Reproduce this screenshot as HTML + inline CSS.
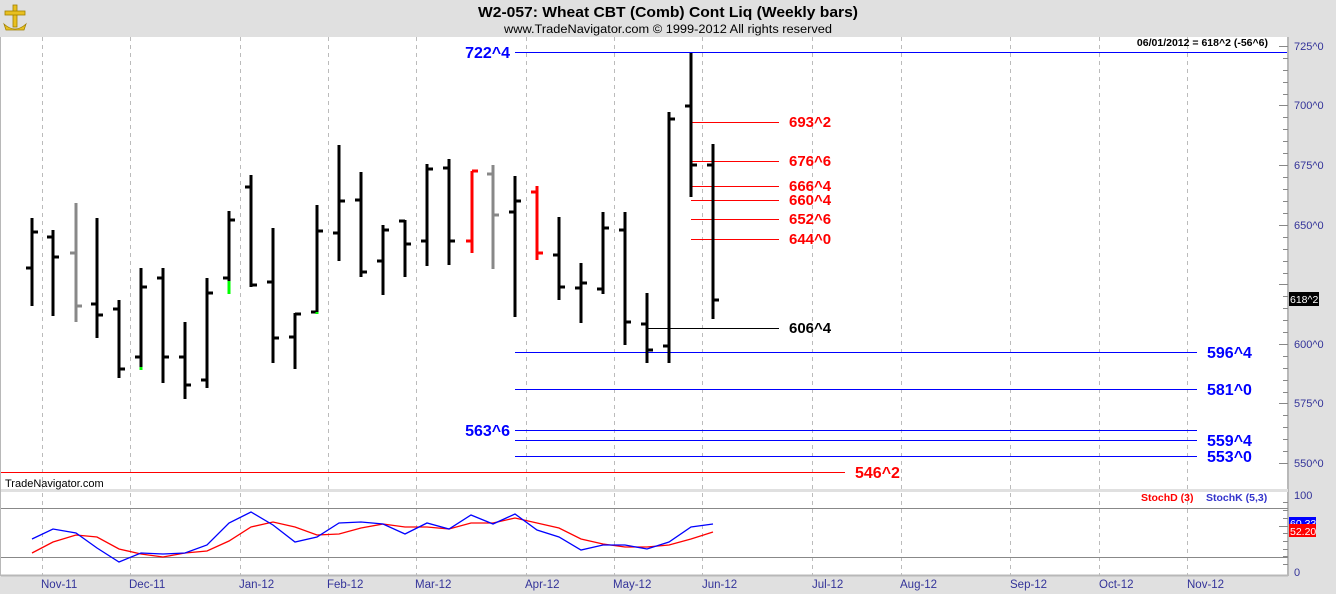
<!DOCTYPE html>
<html><head><meta charset="utf-8"><style>
html,body{margin:0;padding:0;background:#e0e0e0;}
svg{display:block;font-family:"Liberation Sans",Arial,sans-serif;}
</style></head><body>
<svg width="1336" height="594" viewBox="0 0 1336 594" xmlns="http://www.w3.org/2000/svg">
<rect width="1336" height="594" fill="#e0e0e0"/>
<g fill="#e8c020" stroke="#a08000" stroke-width="0.8">
<rect x="13" y="5" width="4" height="22"/><rect x="5" y="11" width="20" height="4"/>
<path d="M4 24 Q15 34 26 24 L24 30 L6 30 Z"/>
</g>
<text x="668" y="17" text-anchor="middle" font-size="15" font-weight="bold" textLength="380" lengthAdjust="spacingAndGlyphs">W2-057:  Wheat CBT (Comb) Cont Liq  (Weekly bars)</text>
<text x="668" y="33" text-anchor="middle" font-size="11.5" textLength="328" lengthAdjust="spacingAndGlyphs">www.TradeNavigator.com © 1999-2012 All rights reserved</text>
<rect x="1" y="37" width="1287" height="452" fill="#fff"/>
<rect x="1" y="492" width="1287" height="83" fill="#fff"/>
<line x1="1288" y1="37" x2="1288" y2="576" stroke="#b8b8b8" stroke-width="2"/>
<line x1="1" y1="575.5" x2="1288" y2="575.5" stroke="#b8b8b8" stroke-width="2"/>
<line x1="0.5" y1="37" x2="0.5" y2="576" stroke="#b8b8b8"/>
<g stroke="#bbb" stroke-dasharray="4,4" stroke-width="1">
<path d="M42.5 37V575 M130.5 37V575 M240.5 37V575 M328.5 37V575 M416.5 37V575 M526.5 37V575 M614.5 37V575 M702.5 37V575 M812.5 37V575 M901.5 37V575 M1010.5 37V575 M1099.5 37V575 M1187.5 37V575"/>
</g>
<rect x="1" y="489" width="1287" height="3" fill="#e0e0e0"/>
<g stroke="#888" stroke-width="1">
<path d="M1279 46.5H1288 M1279 105.5H1288 M1279 165.5H1288 M1279 225.5H1288 M1279 284.5H1288 M1279 344.5H1288 M1279 403.5H1288 M1279 463.5H1288"/>
<path d="M1283 58.5H1288 M1283 70.5H1288 M1283 82.5H1288 M1283 94.5H1288 M1283 117.5H1288 M1283 129.5H1288 M1283 141.5H1288 M1283 153.5H1288 M1283 177.5H1288 M1283 189.5H1288 M1283 201.5H1288 M1283 213.5H1288 M1283 237.5H1288 M1283 249.5H1288 M1283 261.5H1288 M1283 273.5H1288 M1283 296.5H1288 M1283 308.5H1288 M1283 320.5H1288 M1283 332.5H1288 M1283 356.5H1288 M1283 368.5H1288 M1283 380.5H1288 M1283 392.5H1288 M1283 415.5H1288 M1283 427.5H1288 M1283 439.5H1288 M1283 451.5H1288"/>
<path d="M1283 502.5H1288 M1283 510.5H1288 M1283 518.5H1288 M1283 533.5H1288 M1283 541.5H1288 M1283 549.5H1288 M1283 556.5H1288 M1283 564.5H1288 M1279 526.5H1288"/>
</g>
<g font-size="11" fill="#333399">
<text x="1294" y="50">725^0</text><text x="1294" y="109">700^0</text><text x="1294" y="169">675^0</text><text x="1294" y="229">650^0</text>
<text x="1294" y="348">600^0</text><text x="1294" y="407">575^0</text><text x="1294" y="467">550^0</text>
<text x="1294" y="499">100</text><text x="1294" y="576">0</text>
</g>
<rect x="1289" y="292" width="30" height="14" fill="#000"/>
<text x="1290" y="303" font-size="10.5" fill="#fff">618^2</text>
<rect x="1289" y="517" width="27" height="11" fill="#0000ff"/>
<text x="1290" y="527" font-size="10.5" fill="#fff">60.33</text>
<rect x="1289" y="524" width="27" height="13" fill="#ff0000"/>
<text x="1290" y="535" font-size="10.5" fill="#fff">52.20</text>
<g font-size="11.5" fill="#333399">
<text x="41" y="588">Nov-11</text><text x="129" y="588">Dec-11</text><text x="239" y="588">Jan-12</text><text x="327" y="588">Feb-12</text><text x="415" y="588">Mar-12</text><text x="525" y="588">Apr-12</text><text x="613" y="588">May-12</text><text x="702" y="588">Jun-12</text><text x="812" y="588">Jul-12</text><text x="900" y="588">Aug-12</text><text x="1010" y="588">Sep-12</text><text x="1099" y="588">Oct-12</text><text x="1187" y="588">Nov-12</text>
</g>
<text x="1268" y="46" text-anchor="end" font-size="10.5" font-weight="bold">06/01/2012 = 618^2 (-56^6)</text>
<text x="5" y="487" font-size="11">TradeNavigator.com</text>
<g stroke-width="1">
<line x1="515" y1="52.5" x2="1287" y2="52.5" stroke="#0000ff"/>
<line x1="515" y1="352.5" x2="1197" y2="352.5" stroke="#0000ff"/>
<line x1="515" y1="389.5" x2="1197" y2="389.5" stroke="#0000ff"/>
<line x1="515" y1="430.5" x2="1197" y2="430.5" stroke="#0000ff"/>
<line x1="515" y1="440.5" x2="1197" y2="440.5" stroke="#0000ff"/>
<line x1="515" y1="456.5" x2="1197" y2="456.5" stroke="#0000ff"/>
<line x1="1" y1="472.5" x2="845" y2="472.5" stroke="#ff0000"/>
<line x1="691" y1="122.5" x2="779" y2="122.5" stroke="#ff0000"/>
<line x1="691" y1="161.5" x2="779" y2="161.5" stroke="#ff0000"/>
<line x1="691" y1="186.5" x2="779" y2="186.5" stroke="#ff0000"/>
<line x1="691" y1="200.5" x2="779" y2="200.5" stroke="#ff0000"/>
<line x1="691" y1="219.5" x2="779" y2="219.5" stroke="#ff0000"/>
<line x1="691" y1="239.5" x2="779" y2="239.5" stroke="#ff0000"/>
<line x1="648" y1="328.5" x2="779" y2="328.5" stroke="#000"/>
</g>
<g font-size="16" font-weight="bold">
<text x="510" y="58" text-anchor="end" fill="#0000ff">722^4</text>
<text x="510" y="436" text-anchor="end" fill="#0000ff">563^6</text>
<text x="1207" y="358" fill="#0000ff">596^4</text>
<text x="1207" y="395" fill="#0000ff">581^0</text>
<text x="1207" y="446" fill="#0000ff">559^4</text>
<text x="1207" y="462" fill="#0000ff">553^0</text>
<text x="855" y="478" fill="#ff0000">546^2</text>
<text x="789" y="127" fill="#ff0000" font-size="15">693^2</text>
<text x="789" y="166" fill="#ff0000" font-size="15">676^6</text>
<text x="789" y="191" fill="#ff0000" font-size="15">666^4</text>
<text x="789" y="205" fill="#ff0000" font-size="15">660^4</text>
<text x="789" y="224" fill="#ff0000" font-size="15">652^6</text>
<text x="789" y="244" fill="#ff0000" font-size="15">644^0</text>
<text x="789" y="333" fill="#000" font-size="15">606^4</text>
</g>
<g stroke-width="3" fill="none">
<path stroke="#000" d="
M32 218V306 M26 268H32 M32 232H38
M53 230V316 M47 237H53 M53 257H59
M97 218V338 M91 304H97 M97 315H103
M119 300V378 M113 309H119 M119 369H125
M141 268V369 M135 357H141 M141 287H147
M163 268V383 M157 278H163 M163 357H169
M185 322V399 M179 357H185 M185 385H191
M207 278V388 M201 380H207 M207 293H213
M229 211V281 M223 278H229 M229 220H235
M251 175V287 M245 187H251 M251 285H257
M273 228V363 M267 282H273 M273 338H279
M295 313V369 M289 337H295 M295 314H301
M317 205V312 M311 312H317 M317 231H323
M339 145V261 M333 233H339 M339 201H345
M361 172V277 M355 200H361 M361 272H367
M383 225V295 M377 261H383 M383 230H389
M405 220V277 M399 221H405 M405 244H411
M427 164V266 M421 241H427 M427 169H433
M449 159V265 M443 168H449 M449 241H455
M515 176V317 M509 212H515 M515 201H521
M559 217V300 M553 255H559 M559 287H565
M581 263V323 M575 288H581 M581 283H587
M603 212V294 M597 289H603 M603 228H609
M625 212V345 M619 230H625 M625 322H631
M647 293V363 M641 324H647 M647 350H653
M669 112V363 M663 346H669 M669 119H675
M691 53V197 M685 106H691 M691 165H697
M713 144V319 M707 165H713 M713 300H719"/>
<path stroke="#888" d="M76 203V322 M70 253H76 M76 306H82 M493 165V269 M487 174H493 M493 215H499"/>
<path stroke="#ff0000" d="M472 171V253 M466 241H472 M472 171H478 M537 186V260 M531 192H537 M537 253H543"/>
<path stroke="#00ff00" d="M141 367V370 M229 281V294 M317 312V314"/>
</g>
<line x1="1" y1="508.5" x2="1288" y2="508.5" stroke="#888"/>
<line x1="1" y1="557.5" x2="1288" y2="557.5" stroke="#888"/>
<polyline fill="none" stroke="#ff0000" stroke-width="1.3" points="32,553 53,542 76,535 97,537 119,549 141,554 163,557 185,553 207,551 229,541 251,527 273,522 295,527 317,535 339,534 361,528 383,524 405,527 427,527 449,529 471,523 493,523 515,518 537,523 559,528 581,539 603,544 625,547 647,547 669,545 691,539 713,532"/>
<polyline fill="none" stroke="#0000ff" stroke-width="1.3" points="32,539 53,529 76,533 97,548 119,562 141,553 163,554 185,553 207,545 229,523 251,512 273,525 295,542 317,537 339,523 361,522 383,524 405,534 427,523 449,529 471,515 493,524 515,514 537,530 559,537 581,550 603,545 625,545 647,549 669,542 691,527 713,524"/>
<text x="1141" y="501" font-size="10.5" font-weight="bold" fill="#ff0000">StochD (3)</text>
<text x="1206" y="501" font-size="10.5" font-weight="bold" fill="#3333cc">StochK (5,3)</text>
</svg>
</body></html>
